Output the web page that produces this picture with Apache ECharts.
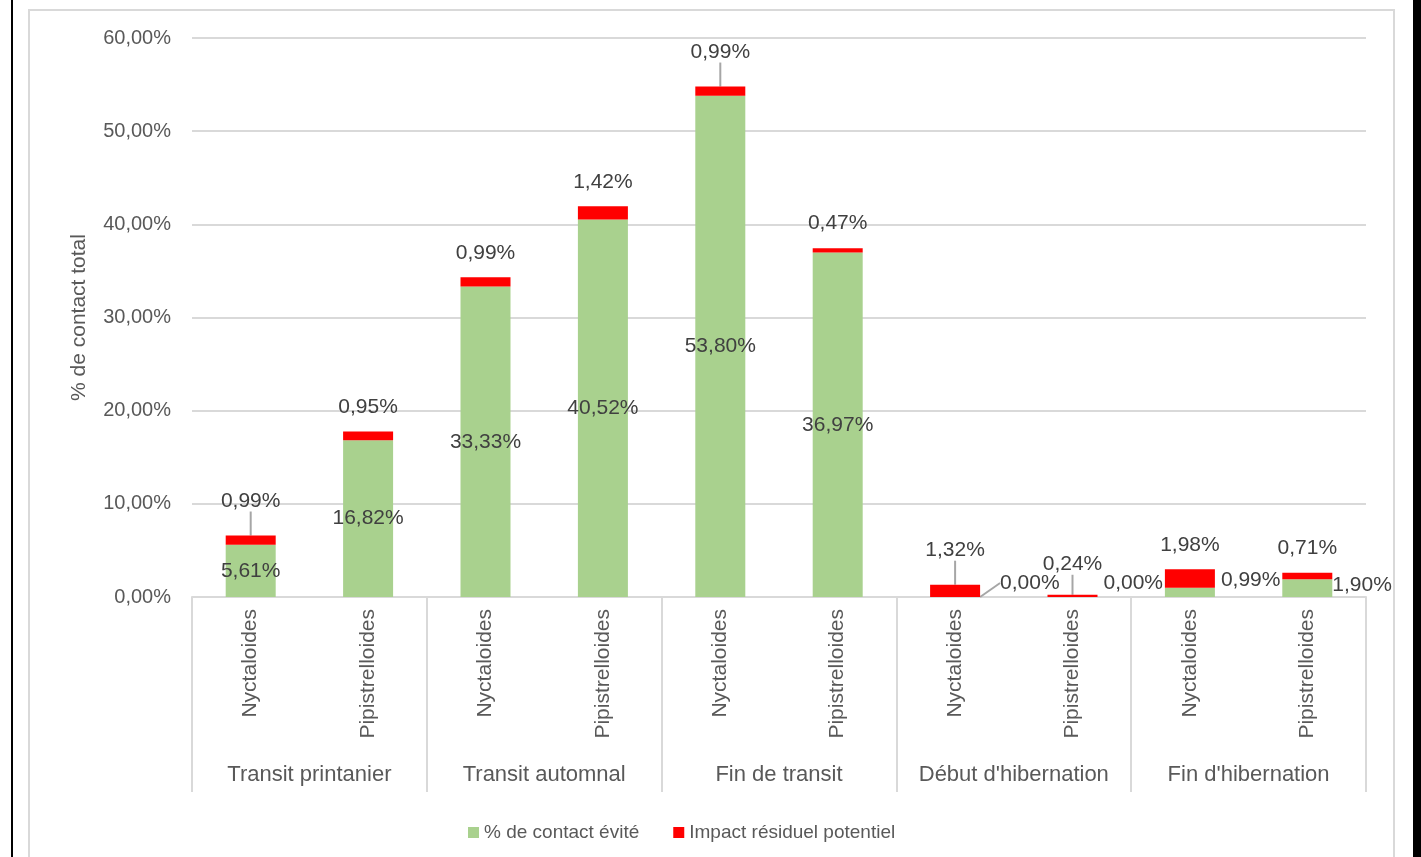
<!DOCTYPE html>
<html>
<head>
<meta charset="utf-8">
<script src="https://cdn.jsdelivr.net/npm/echarts@6/dist/echarts.min.js"></script>
<style>
html,body{margin:0;padding:0;background:#fff;}
#c{width:1421px;height:857px;}
</style>
</head>
<body>
<div id="c"></div>
<script>
const groups = ["Transit printanier", "Transit automnal", "Fin de transit", "Début d'hibernation", "Fin d'hibernation"];
const subCats = ["Nyctaloides", "Pipistrelloides", "Nyctaloides", "Pipistrelloides", "Nyctaloides", "Pipistrelloides", "Nyctaloides", "Pipistrelloides", "Nyctaloides", "Pipistrelloides"];
const avoided = [5.61, 16.82, 33.33, 40.52, 53.80, 36.97, 0.00, 0.00, 0.99, 1.90];
const residual = [0.99, 0.95, 0.99, 1.42, 0.99, 0.47, 1.32, 0.24, 1.98, 0.71];
const seriesNames = ["% de contact évité", "Impact résiduel potentiel"];
const yTicks = [0, 10, 20, 30, 40, 50, 60];

const FONT = "'Liberation Sans', Arial, sans-serif";
const TXT = '#595959';
const LBL = '#404040';
const GRIDC = '#D9D9D9';
const fmt = v => v.toFixed(2).replace('.', ',') + '%';

// label placement tweaks (by index)
const greenRight = {6: -14, 7: -14, 8: -12, 9: -3};
const greenLine = {6: true};
const redLift = {0: -10, 4: -10, 6: -10, 7: -6};

const greenData = avoided.map((v, i) => {
  const d = {value: v};
  if (greenRight[i] !== undefined) {
    d.label = {position: 'right', distance: i === 9 ? 0 : (i === 6 ? 20 : 6)};
  }
  if (greenLine[i]) d.labelLine = {show: true, lineStyle: {color: '#A6A6A6', width: 2}};
  return d;
});
const redData = residual.map((v, i) => {
  const d = {value: v};
  if (redLift[i] !== undefined) d.labelLine = {show: true, lineStyle: {color: '#A6A6A6', width: 2}};
  return d;
});

const chart = echarts.init(document.getElementById('c'), null, {renderer: 'canvas'});
chart.setOption({
  animation: false,
  textStyle: {fontFamily: FONT},
  graphic: [
    {type: 'rect', shape: {x: 29, y: 10, width: 1365, height: 900}, style: {fill: 'none', stroke: GRIDC, lineWidth: 2}, silent: true, z: -10},
    {type: 'rect', shape: {x: 11, y: 0, width: 2, height: 857}, style: {fill: '#000'}, silent: true},
    {type: 'rect', shape: {x: 1413, y: 0, width: 8, height: 857}, style: {fill: '#000'}, silent: true}
  ],
  grid: {left: 192, right: 55, top: 38, bottom: 260, containLabel: false},
  legend: {
    data: seriesNames, left: 463, top: 818, itemWidth: 11, itemHeight: 11, itemGap: 34,
    icon: 'rect', textStyle: {color: TXT, fontSize: 19, fontFamily: FONT}
  },
  xAxis: [
    {
      type: 'category', data: subCats, position: 'bottom', offset: 0,
      axisLine: {show: true, lineStyle: {color: GRIDC, width: 2}},
      axisTick: {show: false},
      axisLabel: {rotate: 90, margin: 12, color: TXT, fontSize: 21, fontFamily: FONT, interval: 0}
    },
    {
      type: 'category', data: groups, position: 'bottom', offset: 0,
      axisLine: {show: false},
      axisTick: {show: true, length: 195, lineStyle: {color: GRIDC, width: 2}},
      axisLabel: {margin: 167, color: TXT, fontSize: 22, fontFamily: FONT, interval: 0}
    }
  ],
  yAxis: {
    type: 'value', min: yTicks[0], max: yTicks[yTicks.length - 1], interval: 10,
    name: '% de contact total', nameLocation: 'middle', nameGap: 102, nameRotate: 90,
    nameTextStyle: {color: TXT, fontSize: 21, fontFamily: FONT},
    axisLine: {show: false}, axisTick: {show: false},
    axisLabel: {margin: 21, color: TXT, fontSize: 20, fontFamily: FONT, formatter: v => fmt(v)},
    splitLine: {lineStyle: {color: GRIDC, width: 2}}
  },
  series: [
    {
      name: seriesNames[0], type: 'bar', stack: 'total', xAxisIndex: 0, barWidth: 50,
      itemStyle: {color: '#A9D18E'}, data: greenData,
      label: {show: true, position: 'inside', color: LBL, fontSize: 21, fontFamily: FONT, formatter: p => fmt(p.value)},
      labelLayout: p => (greenRight[p.dataIndex] !== undefined ? {dy: greenRight[p.dataIndex]} : {})
    },
    {
      name: seriesNames[1], type: 'bar', stack: 'total', xAxisIndex: 0, barWidth: 50,
      itemStyle: {color: '#FF0000'}, data: redData,
      label: {show: true, position: 'top', distance: 14, color: LBL, fontSize: 21, fontFamily: FONT, formatter: p => fmt(p.value)},
      labelLayout: p => (redLift[p.dataIndex] !== undefined ? {dy: redLift[p.dataIndex]} : {})
    }
  ]
});
</script>
</body>
</html>
